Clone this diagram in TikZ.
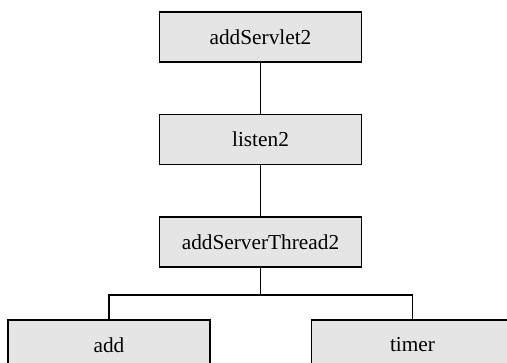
\documentclass[tikz,border=0pt]{standalone}
\usepackage{fontspec}
\setmainfont{Liberation Serif}
\usepackage{tikz}
\usetikzlibrary{positioning}
\tikzset{
  callbox/.style={
    draw=black,
    fill=gray!20,
    line width=1.6pt,
    minimum width=202pt,
    minimum height=50pt,
    inner sep=0pt,
  },
  calllink/.style={line width=1.6pt},
}

\begin{document}
\begin{tikzpicture}[font=\fontsize{21.3}{25}\selectfont, node distance=51pt]
  \useasboundingbox (0,0) rectangle (507pt,-363pt);
  \node[callbox] (servlet) at (260.5pt,-37pt) {addServlet2};
  \node[callbox,below=of servlet] (listen) {listen2};
  \node[callbox,below=of listen] (thread) {addServerThread2};
  \node[callbox,below=of thread,xshift=-151.5pt] (add) {add};
  \node[callbox,below=of thread,xshift=152pt] (timer) {timer};
  % tree of calls
  \draw[calllink] (servlet) -- (listen);
  \draw[calllink] (listen) -- (thread);
  \coordinate[below=27pt of thread.south] (fork);
  \draw[calllink] (thread) -- (fork) -| (add.north);
  \draw[calllink] (fork) -| (timer.north);
\end{tikzpicture}
\end{document}
